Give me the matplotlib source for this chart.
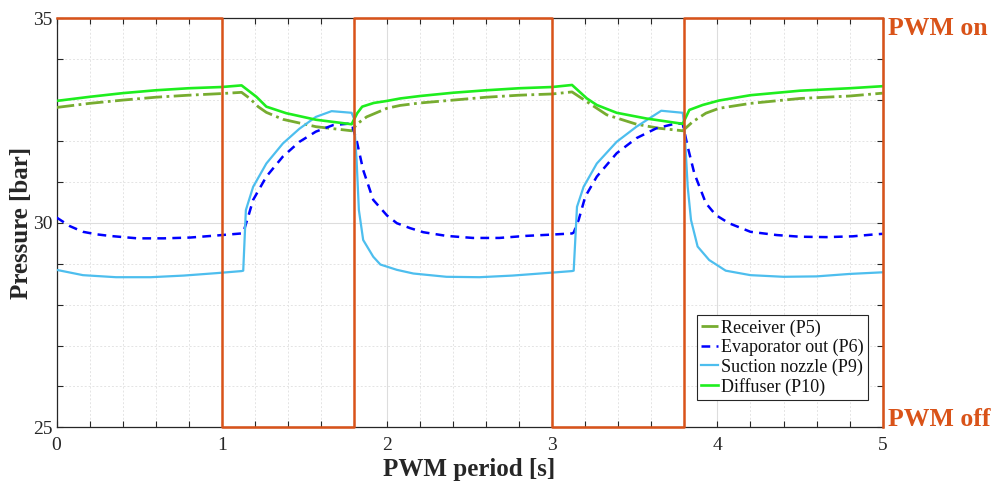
import matplotlib
matplotlib.use("Agg")
import matplotlib.pyplot as plt
from matplotlib.ticker import MultipleLocator, FixedLocator

plt.rcParams['font.family'] = ['Liberation Serif', 'DejaVu Serif']

# PWM signal (on = 35, off = 25)
pwm_t = [0, 1.0, 1.0, 1.8, 1.8, 3.0, 3.0, 3.8, 3.8, 5.0, 5.0]
pwm_v = [35, 35, 25, 25, 35, 35, 25, 25, 35, 35, 25]

# Receiver (P5)
recv_t = [0, 0.2, 0.4, 0.6, 0.8, 1.0, 1.12, 1.17, 1.22, 1.27, 1.37, 1.57, 1.786,
          1.82, 1.877, 2.0, 2.08, 2.2, 2.4, 2.6, 2.8, 3.0, 3.12, 3.21, 3.33, 3.51,
          3.65, 3.79, 3.85, 3.93, 4.01, 4.2, 4.5, 4.8, 5.0]
recv_p = [32.82, 32.92, 33.0, 33.07, 33.12, 33.16, 33.19, 33.04, 32.84, 32.70, 32.53,
          32.35, 32.25, 32.42, 32.59, 32.80, 32.87, 32.93, 33.0, 33.07, 33.12, 33.15,
          33.2, 32.96, 32.64, 32.41, 32.31, 32.25, 32.47, 32.68, 32.80, 32.92, 33.04,
          33.1, 33.17]

# Evaporator out (P6)
evap_t = [0, 0.08, 0.16, 0.24, 0.32, 0.49, 0.65, 0.81, 0.97, 1.12, 1.13, 1.16, 1.19,
          1.27, 1.37, 1.47, 1.57, 1.675, 1.786, 1.816, 1.856, 1.917, 2.0, 2.06, 2.14,
          2.22, 2.36, 2.52, 2.68, 2.84, 2.99, 3.12, 3.13, 3.16, 3.2, 3.27, 3.39, 3.51,
          3.63, 3.75, 3.79, 3.82, 3.86, 3.93, 3.99, 4.07, 4.2, 4.36, 4.5, 4.66, 4.82,
          4.96, 5.0]
evap_p = [30.13, 29.92, 29.78, 29.72, 29.68, 29.62, 29.62, 29.64, 29.69, 29.74, 29.76,
          30.15, 30.56, 31.13, 31.62, 31.98, 32.23, 32.39, 32.43, 32.02, 31.29, 30.56,
          30.18, 29.99, 29.87, 29.77, 29.68, 29.63, 29.63, 29.68, 29.71, 29.74, 29.76,
          30.07, 30.64, 31.13, 31.70, 32.07, 32.31, 32.43, 32.42, 31.86, 31.21, 30.48,
          30.19, 29.99, 29.78, 29.70, 29.66, 29.65, 29.67, 29.72, 29.73]

# Suction nozzle (P9)
suct_t = [0, 0.16, 0.36, 0.57, 0.77, 0.97, 1.12, 1.13, 1.146, 1.19, 1.27, 1.37, 1.47,
          1.57, 1.665, 1.786, 1.80, 1.816, 1.83, 1.856, 1.917, 1.96, 2.06, 2.16, 2.36,
          2.56, 2.76, 2.96, 3.12, 3.13, 3.15, 3.19, 3.27, 3.39, 3.51, 3.66, 3.79, 3.80,
          3.82, 3.84, 3.88, 3.95, 4.05, 4.2, 4.4, 4.6, 4.8, 5.0]
suct_p = [28.85, 28.72, 28.67, 28.67, 28.71, 28.77, 28.82, 28.83, 30.31, 30.88, 31.45,
          31.94, 32.30, 32.59, 32.73, 32.69, 32.55, 31.54, 30.31, 29.58, 29.17, 28.98,
          28.85, 28.76, 28.68, 28.67, 28.71, 28.77, 28.82, 28.83, 30.39, 30.88, 31.45,
          31.98, 32.35, 32.74, 32.69, 32.35, 30.88, 30.07, 29.42, 29.09, 28.83, 28.72,
          28.68, 28.69, 28.75, 28.79]

# Diffuser (P10)
diff_t = [0, 0.2, 0.4, 0.6, 0.8, 1.0, 1.12, 1.21, 1.27, 1.39, 1.57, 1.786, 1.82, 1.85,
          1.92, 2.0, 2.08, 2.2, 2.4, 2.6, 2.8, 3.0, 3.12, 3.21, 3.27, 3.39, 3.57, 3.79,
          3.83, 3.91, 4.01, 4.2, 4.5, 4.8, 5.0]
diff_p = [32.98, 33.08, 33.17, 33.24, 33.29, 33.32, 33.36, 33.08, 32.84, 32.68, 32.52,
          32.41, 32.68, 32.84, 32.93, 32.98, 33.04, 33.10, 33.18, 33.24, 33.29, 33.32,
          33.37, 33.04, 32.88, 32.69, 32.55, 32.42, 32.76, 32.88, 32.99, 33.12, 33.23,
          33.29, 33.34]

labels = ['Receiver (P5)', 'Evaporator out (P6)', 'Suction nozzle (P9)', 'Diffuser (P10)']
x_major = [0, 1, 2, 3, 4, 5]
y_major = [25, 30, 35]

orange = '#D95319'

fig = plt.figure(figsize=(9.95, 4.83), dpi=100)
ax = fig.add_axes([0.0568, 0.1153, 0.8303, 0.8468])

ax.plot(recv_t, recv_p, color='#77AC30', ls='-.', lw=2.0, label=labels[0], zorder=3)
ax.plot(evap_t, evap_p, color='#0000FF', ls=(0, (3.5, 2.5)), lw=1.8, label=labels[1], zorder=3)
ax.plot(suct_t, suct_p, color='#4DBEEE', ls='-', lw=1.6, label=labels[2], zorder=3)
ax.plot(diff_t, diff_p, color='#1EEE1E', ls='-', lw=1.9, label=labels[3], zorder=3)
ax.plot(pwm_t, pwm_v, color=orange, lw=1.8, clip_on=False, zorder=5)

ax.set_xlim(0, 5)
ax.set_ylim(25, 35)
ax.xaxis.set_major_locator(FixedLocator(x_major))
ax.yaxis.set_major_locator(FixedLocator(y_major))
ax.xaxis.set_minor_locator(MultipleLocator(0.2))
ax.yaxis.set_minor_locator(MultipleLocator(1))

ax.grid(which='major', color='#dddddd', lw=0.8, ls='-')
ax.grid(which='minor', color='#e4e4e4', lw=0.7, ls=(0, (2, 2)))
ax.set_axisbelow(True)

ax.tick_params(which='both', direction='in', top=True, right=True, length=4,
               width=0.8, color='#262626', labelsize=14, labelcolor='#262626')
ax.tick_params(axis='x', pad=7)
ax.tick_params(axis='y', pad=3)
for s in ax.spines.values():
    s.set_color('#262626')
    s.set_linewidth(0.9)

ax.set_xlabel('PWM period [s]', fontsize=18, fontweight='bold', color='#262626', labelpad=3)
ax.set_ylabel('Pressure [bar]', fontsize=18, fontweight='bold', color='#262626', labelpad=0)

leg = ax.legend(loc='upper left', bbox_to_anchor=(0.775, 0.275), borderaxespad=0,
                fontsize=13, frameon=True, fancybox=False, edgecolor='#262626',
                framealpha=1, handlelength=0.9, handletextpad=0.2, labelspacing=0.12,
                borderpad=0.25)
leg.get_frame().set_linewidth(0.8)
for t in leg.get_texts():
    t.set_color('#111111')

ax.text(1.0064, 0.976, 'PWM on', transform=ax.transAxes, color=orange, fontsize=18.5,
        fontweight='bold', ha='left', va='center')
ax.text(1.0064, 0.018, 'PWM off', transform=ax.transAxes, color=orange, fontsize=18.5,
        fontweight='bold', ha='left', va='center')

fig.savefig('out.png', dpi=100)
